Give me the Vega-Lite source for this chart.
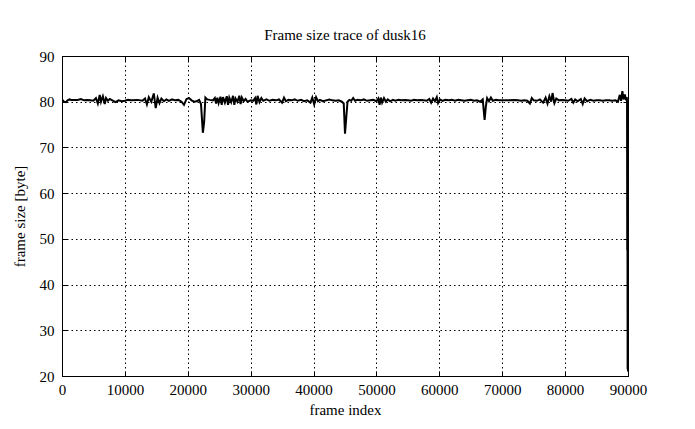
{
  "$schema": "https://vega.github.io/schema/vega-lite/v6.json",
  "autosize": "none",
  "width": 566,
  "height": 320,
  "padding": {"left": 62, "top": 56, "right": 67, "bottom": 53},
  "background": "white",
  "config": {
    "font": "Liberation Serif",
    "view": {"stroke": "black", "strokeWidth": 1},
    "axis": {
      "labelFont": "Liberation Serif",
      "titleFont": "Liberation Serif",
      "labelFontSize": 15,
      "titleFontSize": 15,
      "titleFontWeight": "normal",
      "labelColor": "black",
      "titleColor": "black",
      "domain": false,
      "tickColor": "black",
      "tickSize": -5,
      "gridColor": "black",
      "gridDash": [1.5, 3],
      "gridOpacity": 1,
      "gridWidth": 1
    },
    "title": {"font": "Liberation Serif", "fontSize": 15, "fontWeight": "normal", "color": "black"}
  },
  "title": {"text": "Frame size trace of dusk16", "offset": 6},
  "data": {"values": [
    {"frame": 0, "size": 80.5}, {"frame": 300, "size": 80.0}, {"frame": 600, "size": 79.9}, {"frame": 900, "size": 80.3},
    {"frame": 1200, "size": 80.5}, {"frame": 1500, "size": 80.4}, {"frame": 2500, "size": 80.4}, {"frame": 3000, "size": 80.6},
    {"frame": 3500, "size": 80.3}, {"frame": 4000, "size": 80.4}, {"frame": 4500, "size": 80.3}, {"frame": 5000, "size": 80.2},
    {"frame": 5400, "size": 80.8}, {"frame": 5700, "size": 79.6}, {"frame": 6000, "size": 81.5}, {"frame": 6200, "size": 80.0},
    {"frame": 6500, "size": 81.2}, {"frame": 6800, "size": 79.5}, {"frame": 7000, "size": 80.8}, {"frame": 7300, "size": 80.2},
    {"frame": 7600, "size": 80.6}, {"frame": 8000, "size": 80.3}, {"frame": 8500, "size": 79.9}, {"frame": 9000, "size": 80.3},
    {"frame": 9500, "size": 80.1}, {"frame": 10000, "size": 80.2}, {"frame": 10500, "size": 80.4}, {"frame": 11000, "size": 80.3},
    {"frame": 12000, "size": 80.4}, {"frame": 12800, "size": 80.2}, {"frame": 13200, "size": 80.7}, {"frame": 13500, "size": 79.4},
    {"frame": 13800, "size": 81.0}, {"frame": 14200, "size": 80.0}, {"frame": 14600, "size": 81.8}, {"frame": 14900, "size": 78.6},
    {"frame": 15200, "size": 80.9}, {"frame": 15500, "size": 79.7}, {"frame": 15800, "size": 80.7}, {"frame": 16200, "size": 80.1},
    {"frame": 16600, "size": 80.5}, {"frame": 17000, "size": 80.2}, {"frame": 17500, "size": 80.5}, {"frame": 18000, "size": 80.3},
    {"frame": 18500, "size": 80.4}, {"frame": 19000, "size": 80.0}, {"frame": 19400, "size": 79.3}, {"frame": 19800, "size": 80.6},
    {"frame": 20200, "size": 80.8}, {"frame": 20600, "size": 80.3}, {"frame": 21000, "size": 80.0}, {"frame": 21400, "size": 80.1},
    {"frame": 21800, "size": 80.4}, {"frame": 22100, "size": 79.5}, {"frame": 22400, "size": 73.2}, {"frame": 22600, "size": 75.5},
    {"frame": 22800, "size": 80.9}, {"frame": 23100, "size": 80.5}, {"frame": 23500, "size": 80.4}, {"frame": 24000, "size": 80.3},
    {"frame": 24300, "size": 80.8}, {"frame": 24500, "size": 79.6}, {"frame": 24700, "size": 80.9}, {"frame": 24900, "size": 79.7},
    {"frame": 25200, "size": 81.1}, {"frame": 25400, "size": 79.3}, {"frame": 25600, "size": 81.0}, {"frame": 25900, "size": 79.8},
    {"frame": 26200, "size": 81.2}, {"frame": 26400, "size": 79.3}, {"frame": 26600, "size": 80.9}, {"frame": 26900, "size": 79.9},
    {"frame": 27200, "size": 81.3}, {"frame": 27400, "size": 79.3}, {"frame": 27600, "size": 80.7}, {"frame": 27900, "size": 80.0},
    {"frame": 28200, "size": 81.3}, {"frame": 28400, "size": 79.5}, {"frame": 28600, "size": 80.9}, {"frame": 28900, "size": 80.1},
    {"frame": 29200, "size": 80.6}, {"frame": 29500, "size": 80.0}, {"frame": 30000, "size": 80.3}, {"frame": 30400, "size": 80.2},
    {"frame": 30700, "size": 80.8}, {"frame": 30900, "size": 79.4}, {"frame": 31100, "size": 81.3}, {"frame": 31400, "size": 79.9},
    {"frame": 31700, "size": 80.8}, {"frame": 32000, "size": 80.2}, {"frame": 32500, "size": 80.5}, {"frame": 33000, "size": 80.2},
    {"frame": 33500, "size": 80.4}, {"frame": 34000, "size": 80.3}, {"frame": 34500, "size": 80.5}, {"frame": 35000, "size": 79.8},
    {"frame": 35300, "size": 80.9}, {"frame": 35600, "size": 80.1}, {"frame": 36000, "size": 80.4}, {"frame": 36500, "size": 80.3},
    {"frame": 37000, "size": 80.5}, {"frame": 37500, "size": 80.2}, {"frame": 38000, "size": 80.4}, {"frame": 38500, "size": 80.1},
    {"frame": 39000, "size": 80.3}, {"frame": 39500, "size": 79.8}, {"frame": 39800, "size": 80.9}, {"frame": 40100, "size": 79.4},
    {"frame": 40400, "size": 81.0}, {"frame": 40700, "size": 80.1}, {"frame": 41000, "size": 80.4}, {"frame": 41500, "size": 80.1},
    {"frame": 42000, "size": 80.3}, {"frame": 42500, "size": 80.5}, {"frame": 43000, "size": 80.3}, {"frame": 43500, "size": 80.2},
    {"frame": 44000, "size": 80.3}, {"frame": 44500, "size": 80.0}, {"frame": 44800, "size": 79.6}, {"frame": 45000, "size": 73.0},
    {"frame": 45200, "size": 76.5}, {"frame": 45400, "size": 80.0}, {"frame": 45700, "size": 80.4}, {"frame": 46000, "size": 80.2},
    {"frame": 46300, "size": 80.8}, {"frame": 46600, "size": 80.2}, {"frame": 47000, "size": 80.4}, {"frame": 47500, "size": 80.3},
    {"frame": 48000, "size": 80.5}, {"frame": 48500, "size": 80.2}, {"frame": 49000, "size": 80.3}, {"frame": 49500, "size": 80.4},
    {"frame": 50000, "size": 80.1}, {"frame": 50300, "size": 80.7}, {"frame": 50500, "size": 79.3}, {"frame": 50700, "size": 80.9},
    {"frame": 50900, "size": 79.8}, {"frame": 51200, "size": 80.8}, {"frame": 51500, "size": 80.0}, {"frame": 51800, "size": 80.5},
    {"frame": 52200, "size": 80.1}, {"frame": 52600, "size": 80.4}, {"frame": 53000, "size": 80.2}, {"frame": 53500, "size": 80.4},
    {"frame": 54000, "size": 80.3}, {"frame": 54500, "size": 80.4}, {"frame": 55000, "size": 80.3}, {"frame": 55500, "size": 80.2},
    {"frame": 56000, "size": 80.4}, {"frame": 56500, "size": 80.3}, {"frame": 57000, "size": 80.4}, {"frame": 57500, "size": 80.3},
    {"frame": 58000, "size": 80.2}, {"frame": 58400, "size": 80.6}, {"frame": 58700, "size": 79.8}, {"frame": 59000, "size": 80.7},
    {"frame": 59300, "size": 80.1}, {"frame": 59600, "size": 81.0}, {"frame": 59800, "size": 79.7}, {"frame": 60100, "size": 80.5},
    {"frame": 60500, "size": 80.2}, {"frame": 61000, "size": 80.4}, {"frame": 61500, "size": 80.3}, {"frame": 62000, "size": 80.4},
    {"frame": 62500, "size": 80.2}, {"frame": 63000, "size": 80.4}, {"frame": 63500, "size": 80.3}, {"frame": 64000, "size": 80.2},
    {"frame": 64500, "size": 80.3}, {"frame": 65000, "size": 80.4}, {"frame": 65500, "size": 80.2}, {"frame": 66000, "size": 80.3},
    {"frame": 66500, "size": 80.0}, {"frame": 66900, "size": 80.5}, {"frame": 67200, "size": 76.0}, {"frame": 67400, "size": 79.0},
    {"frame": 67600, "size": 80.8}, {"frame": 67900, "size": 80.1}, {"frame": 68200, "size": 80.9}, {"frame": 68500, "size": 80.2},
    {"frame": 69000, "size": 80.4}, {"frame": 69500, "size": 80.3}, {"frame": 70000, "size": 80.3}, {"frame": 71000, "size": 80.3},
    {"frame": 72000, "size": 80.4}, {"frame": 72500, "size": 80.3}, {"frame": 73000, "size": 80.2}, {"frame": 73500, "size": 80.3},
    {"frame": 74000, "size": 80.2}, {"frame": 74400, "size": 79.6}, {"frame": 74700, "size": 80.8}, {"frame": 75000, "size": 80.3},
    {"frame": 75500, "size": 80.2}, {"frame": 76000, "size": 80.5}, {"frame": 76500, "size": 79.8}, {"frame": 76900, "size": 80.9},
    {"frame": 77200, "size": 79.6}, {"frame": 77500, "size": 81.2}, {"frame": 77800, "size": 80.0}, {"frame": 78000, "size": 81.9},
    {"frame": 78300, "size": 79.7}, {"frame": 78600, "size": 80.7}, {"frame": 79000, "size": 80.3}, {"frame": 79500, "size": 80.4},
    {"frame": 80000, "size": 80.3}, {"frame": 80500, "size": 80.2}, {"frame": 81000, "size": 80.6}, {"frame": 81300, "size": 79.8},
    {"frame": 81600, "size": 80.5}, {"frame": 82000, "size": 80.1}, {"frame": 82500, "size": 80.6}, {"frame": 82800, "size": 79.5},
    {"frame": 83100, "size": 80.7}, {"frame": 83500, "size": 80.1}, {"frame": 84000, "size": 80.4}, {"frame": 84500, "size": 80.2},
    {"frame": 85000, "size": 80.3}, {"frame": 85500, "size": 80.3}, {"frame": 86000, "size": 80.2}, {"frame": 86500, "size": 80.3},
    {"frame": 87000, "size": 80.3}, {"frame": 87500, "size": 80.2}, {"frame": 88000, "size": 80.3}, {"frame": 88400, "size": 80.0},
    {"frame": 88700, "size": 81.5}, {"frame": 88900, "size": 80.2}, {"frame": 89100, "size": 82.3}, {"frame": 89300, "size": 80.5},
    {"frame": 89500, "size": 81.6}, {"frame": 89700, "size": 80.3}, {"frame": 89800, "size": 81.0}, {"frame": 89850, "size": 80.0},
    {"frame": 89880, "size": 47.5}, {"frame": 89900, "size": 79.0}, {"frame": 89920, "size": 47.0}, {"frame": 89940, "size": 21.5},
    {"frame": 89955, "size": 47.0}, {"frame": 89970, "size": 22.0}, {"frame": 89985, "size": 32.0}, {"frame": 90000, "size": 21.0}
  ]},
  "layer": [
    {
      "mark": {"type": "line", "color": "black", "strokeWidth": 2, "clip": true},
      "encoding": {
        "x": {"field": "frame", "type": "quantitative", "title": "frame index",
              "scale": {"domain": [0, 90000], "nice": false},
              "axis": {"values": [0,10000,20000,30000,40000,50000,60000,70000,80000,90000], "format": "d", "labelPadding": 11, "titlePadding": 5, "labelFlush": false}},
        "y": {"field": "size", "type": "quantitative", "title": "frame size [byte]",
              "scale": {"domain": [20, 90], "nice": false, "zero": false},
              "axis": {"values": [20,30,40,50,60,70,80,90], "labelPadding": 13, "titlePadding": 12, "labelFlush": false}}
      }
    },
    {
      "mark": {"type": "line", "opacity": 0},
      "encoding": {
        "x": {"field": "frame", "type": "quantitative",
              "scale": {"domain": [0, 90000], "nice": false},
              "axis": {"orient": "top", "values": [0,10000,20000,30000,40000,50000,60000,70000,80000,90000], "labels": false, "grid": false, "title": null}},
        "y": {"field": "size", "type": "quantitative",
              "scale": {"domain": [20, 90], "nice": false, "zero": false},
              "axis": {"orient": "right", "values": [20,30,40,50,60,70,80,90], "labels": false, "grid": false, "title": null}}
      }
    }
  ],
  "resolve": {"axis": {"x": "independent", "y": "independent"}}
}
